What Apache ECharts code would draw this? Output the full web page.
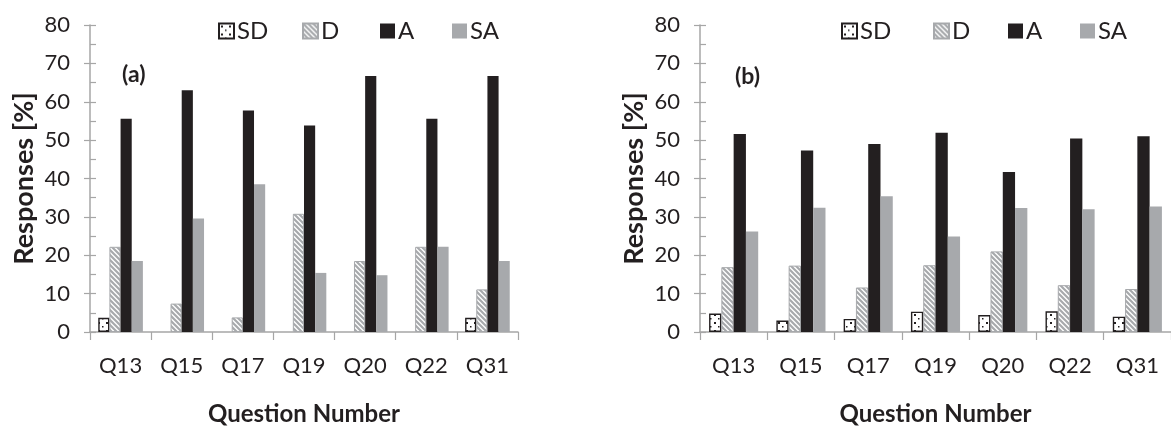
<!DOCTYPE html>
<html>
<head>
<meta charset="utf-8">
<script src="https://cdn.jsdelivr.net/npm/echarts@6/dist/echarts.min.js"></script>
<style>
html,body{margin:0;padding:0;background:#fff;}
#c{width:1171px;height:431px;}
</style>
</head>
<body>
<div id="c"></div>
<script>
const categories = ['Q13','Q15','Q17','Q19','Q20','Q22','Q31'];
const seriesNames = ['SD','D','A','SA'];
const yTicks = [0,10,20,30,40,50,60,70,80];

// Panel (a)
const aSD = [3.7, 0, 0, 0, 0, 0, 3.7];
const aD  = [22.2, 7.4, 3.8, 30.8, 18.5, 22.2, 11.1];
const aA  = [55.6, 63.0, 57.7, 53.8, 66.7, 55.6, 66.7];
const aSA = [18.5, 29.6, 38.5, 15.4, 14.8, 22.2, 18.5];

// Panel (b)
const bSD = [4.8, 3.0, 3.4, 5.3, 4.4, 5.4, 4.0];
const bD  = [16.9, 17.3, 11.6, 17.4, 21.0, 12.2, 11.2];
const bA  = [51.6, 47.3, 49.0, 51.9, 41.7, 50.4, 51.0];
const bSA = [26.2, 32.4, 35.4, 24.9, 32.3, 32.0, 32.7];

const FONT = 'Lato, "Open Sans", sans-serif';
const TXT = '#231f20';
const AX = '#a6a6a6';
const GRAY = '#a7a9ac';

function dotPattern(){
  const c = document.createElement('canvas');
  c.width = 8; c.height = 8;
  const g = c.getContext('2d');
  g.fillStyle = '#ffffff'; g.fillRect(0,0,8,8);
  g.fillStyle = '#231f20';
  g.fillRect(2,2,2,2);
  g.fillRect(6,6,1.5,1.5);
  return {image: c, repeat: 'repeat'};
}
function stripePattern(){
  const s = 5;
  const c = document.createElement('canvas');
  c.width = s; c.height = s;
  const g = c.getContext('2d');
  g.fillStyle = '#ffffff'; g.fillRect(0,0,s,s);
  g.strokeStyle = GRAY; g.lineWidth = 2.2;
  g.beginPath();
  g.moveTo(-1,-1); g.lineTo(s+1,s+1);
  g.moveTo(-1,s-1); g.lineTo(1,s+1);
  g.moveTo(s-1,-1); g.lineTo(s+1,1);
  g.stroke();
  return {image: c, repeat: 'repeat'};
}
const styles = {
  SD: {color: dotPattern(), borderColor: TXT, borderWidth: 1.4},
  D:  {color: stripePattern(), borderColor: GRAY, borderWidth: 1},
  A:  {color: TXT},
  SA: {color: GRAY}
};

const grids = [
  {left: 90, top: 25, width: 428, height: 307},
  {left: 700, top: 25, width: 478, height: 307}
];

function xAxisFor(i){
  return {
    type: 'category', gridIndex: i, data: categories,
    axisLine: {lineStyle: {color: AX, width: 1.5}},
    axisTick: {show: true, length: 8, lineStyle: {color: AX, width: 1.2}},
    axisLabel: {color: TXT, fontSize: 22, fontFamily: FONT, margin: 23},
    name: 'Question Number', nameLocation: 'middle', nameGap: 70,
    nameTextStyle: {color: TXT, fontSize: 24, fontWeight: 'bold', fontFamily: FONT}
  };
}
function yAxisFor(i, main, nameGap){
  return {
    type: 'value', gridIndex: i, position: 'left',
    min: yTicks[0], max: yTicks[yTicks.length-1], interval: 10,
    splitLine: {show: false},
    axisLine: {show: main, lineStyle: {color: AX, width: 1.5}},
    axisTick: {show: true, inside: main, length: 6, lineStyle: {color: AX, width: 1.2}},
    minorTick: {show: main, splitNumber: 2, length: 6, lineStyle: {color: AX, width: 1.2}},
    axisLabel: {show: main, color: TXT, fontSize: 22, fontFamily: FONT, margin: 20},
    name: main ? 'Responses [%]' : '', nameLocation: 'middle', nameGap: nameGap,
    nameTextStyle: {color: TXT, fontSize: 27, fontWeight: 'bold', fontFamily: FONT}
  };
}

const panelData = [[aSD, aD, aA, aSA], [bSD, bD, bA, bSA]];
const series = [];
panelData.forEach((arrs, gi) => {
  arrs.forEach((arr, si) => {
    series.push({
      type: 'bar', name: seriesNames[si],
      xAxisIndex: gi, yAxisIndex: gi * 2,
      data: arr.map(v => v === 0 ? null : v),
      barGap: '0%', barCategoryGap: '27%',
      itemStyle: styles[seriesNames[si]],
      emphasis: {disabled: true},
      animation: false
    });
  });
});

const legendPos = [
  [213, 297, 375, 447],
  [836, 928, 1003, 1075]
];
const legends = [];
legendPos.forEach(row => row.forEach((x, k) => {
  legends.push({
    data: [seriesNames[k]], left: x, top: 14,
    itemWidth: 15, itemHeight: 15, itemGap: 0,
    selectedMode: false,
    icon: 'rect',
    textStyle: {color: TXT, fontSize: 24, fontFamily: FONT, padding: [0,0,0,-2]}
  });
}));

const chart = echarts.init(document.getElementById('c'), null, {renderer: 'canvas'});
chart.setOption({
  backgroundColor: '#ffffff',
  animation: false,
  grid: grids,
  xAxis: [xAxisFor(0), xAxisFor(1)],
  yAxis: [yAxisFor(0, true, 52), yAxisFor(0, false, 0), yAxisFor(1, true, 52), yAxisFor(1, false, 0)],
  legend: legends,
  series: series,
  graphic: [
    {type: 'text', left: 122, top: 63, style: {text: '(a)', fill: TXT, fontSize: 23, fontWeight: 'bold', fontFamily: FONT}},
    {type: 'text', left: 735, top: 65, style: {text: '(b)', fill: TXT, fontSize: 23, fontWeight: 'bold', fontFamily: FONT}}
  ]
});
</script>
</body>
</html>
